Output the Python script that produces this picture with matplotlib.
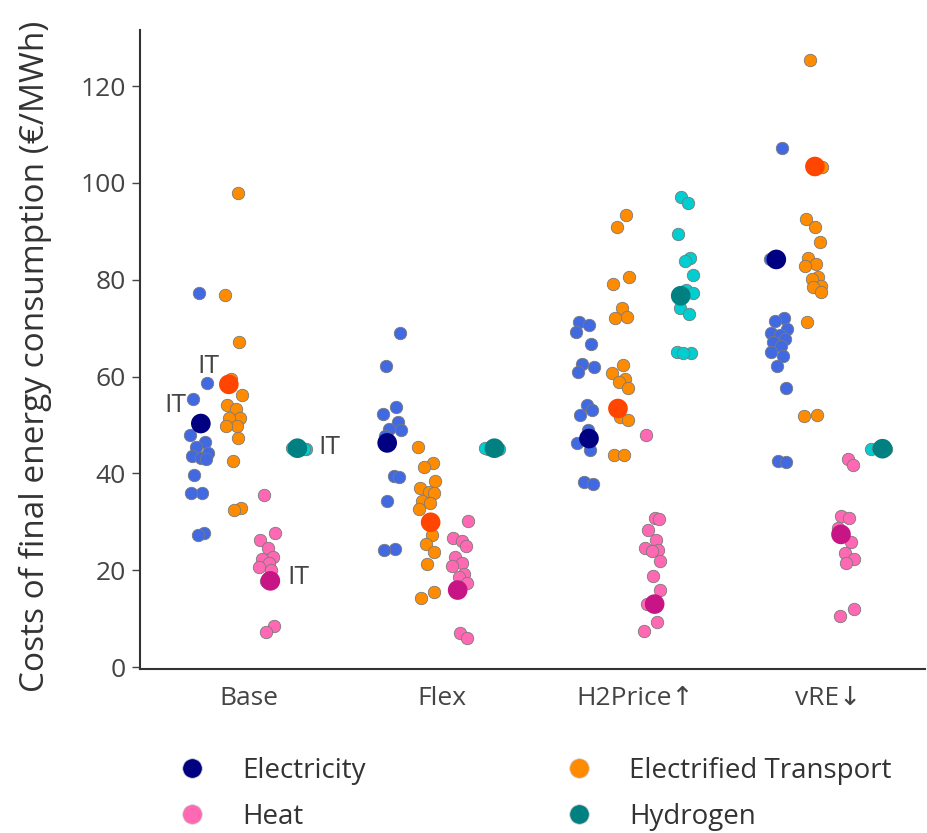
import matplotlib.pyplot as plt
from matplotlib.lines import Line2D

plt.rcParams['font.family'] = ['Open Sans', 'DejaVu Sans']

scenarios = ["Base", "Flex", "H2Price↑", "vRE↓"]
carriers = ["Electricity", "Electrified Transport", "Heat", "Hydrogen"]

# costs per country (€/MWh), one list per scenario
electricity = [
    [77.3, 58.7, 55.4, 50.3, 47.9, 46.5, 45.5, 44.3, 43.5, 43.1, 42.9, 39.7, 35.9, 35.9, 27.7, 27.3],
    [69.0, 62.2, 53.8, 52.3, 50.7, 49.1, 49.0, 47.7, 39.4, 39.2, 34.3, 24.4, 24.2],
    [71.3, 70.6, 69.2, 66.7, 62.6, 61.9, 61.0, 54.1, 53.1, 52.0, 48.9, 46.2, 44.8, 38.3, 37.9],
    [107.2, 84.2, 72.2, 71.4, 69.8, 69.0, 68.6, 67.7, 67.1, 66.4, 65.1, 64.3, 62.1, 57.7, 42.5, 42.4],
]
transport = [
    [98.0, 76.8, 67.2, 59.4, 56.2, 54.1, 53.2, 51.4, 51.4, 49.8, 49.8, 47.4, 42.6, 32.8, 32.4],
    [45.4, 42.1, 41.4, 38.5, 37.0, 36.2, 36.0, 34.3, 33.9, 32.6, 27.3, 25.5, 23.8, 21.3, 15.6, 14.2],
    [93.3, 90.9, 80.5, 79.1, 74.1, 72.4, 72.0, 62.4, 60.7, 59.4, 58.9, 57.6, 51.7, 51.0, 43.8, 43.8],
    [125.4, 103.4, 92.5, 90.8, 87.8, 84.4, 83.2, 82.9, 80.5, 80.1, 78.8, 78.5, 77.5, 71.3, 52.0, 51.9],
]
heat = [
    [35.5, 27.6, 26.2, 24.5, 22.8, 22.4, 21.4, 20.7, 20.1, 17.8, 8.5, 7.3],
    [30.2, 26.6, 26.1, 24.9, 22.8, 21.4, 20.9, 19.3, 18.6, 17.3, 7.1, 5.9],
    [47.9, 30.7, 30.5, 28.4, 26.2, 24.5, 24.2, 24.0, 22.0, 18.8, 16.0, 13.0, 9.2, 7.5],
    [42.9, 41.8, 31.3, 30.8, 28.7, 25.8, 23.6, 22.4, 21.4, 11.9, 10.5],
]
hydrogen = [
    [45.1, 45.1, 45.0, 45.1, 45.2, 45.1],
    [45.1, 45.0, 45.1, 45.2, 45.1, 45.1],
    [97.0, 95.8, 89.4, 84.6, 83.9, 81.0, 77.9, 77.2, 74.1, 72.9, 65.1, 64.9, 64.9],
    [45.1, 45.0, 45.1, 45.2, 45.1, 45.1],
]
# Italy (highlighted)
it_electricity = [50.3, 46.3, 47.2, 84.2]
it_transport = [58.4, 29.9, 53.4, 103.4]
it_heat = [17.8, 15.9, 13.0, 27.4]
it_hydrogen = [45.2, 45.2, 76.7, 45.1]

small_colors = ["#4169E1", "#FF8C00", "#FF69B4", "#00CED1"]
it_colors = ["#000080", "#FF4500", "#C71585", "#008080"]
legend_colors = ["#000080", "#FF8C00", "#FF69B4", "#008080"]
offsets = [-0.26, -0.08, 0.09, 0.26]
jitter = [0.0, 0.04, -0.03, 0.02, -0.045, 0.03, -0.015, 0.045, -0.035,
          0.01, 0.035, -0.025, 0.015, -0.04, 0.025, -0.005, 0.04]
it_jitter = [0.01, -0.025, 0.02, -0.01]

fig = plt.figure(figsize=(9.27, 8.33), dpi=100)
ax = fig.add_axes([140 / 927, 1 - 669 / 833, 785 / 927, 639 / 833])

groups = [electricity, transport, heat, hydrogen]
it_groups = [it_electricity, it_transport, it_heat, it_hydrogen]
for c, vals in enumerate(groups):
    for s, ys in enumerate(vals):
        xs = [s + offsets[c] + jitter[(i + 3 * c + s) % len(jitter)] for i in range(len(ys))]
        ax.scatter(xs, ys, s=80, color=small_colors[c], edgecolor="#7a7a7a",
                   linewidth=0.6, zorder=2)
for c, vals in enumerate(it_groups):
    xs = [s + offsets[c] + it_jitter[(s + c) % 4] for s in range(len(vals))]
    ax.scatter(xs, vals, s=200, color=it_colors[c], edgecolor="none", zorder=3)

# IT labels in Base
lbl = dict(fontsize=19, color="#444444", textcoords="offset pixels", va="center")
bx = [0 + offsets[c] + it_jitter[c % 4] for c in range(4)]
ax.annotate("IT", (bx[0], it_electricity[0]), xytext=(-25, 18), ha="center", **lbl)
ax.annotate("IT", (bx[1], it_transport[0]), xytext=(-20, 18), ha="center", **lbl)
ax.annotate("IT", (bx[2], it_heat[0]), xytext=(28, 3), ha="center", **lbl)
ax.annotate("IT", (bx[3], it_hydrogen[0]), xytext=(32, 1), ha="center", **lbl)

ax.set_xlim(-0.565, 3.5)
ax.set_ylim(-0.41, 131.6)
ax.set_xticks(range(len(scenarios)))
ax.set_xticklabels(scenarios)
ax.set_yticks([0, 20, 40, 60, 80, 100, 120])
ax.tick_params(axis="x", length=0, pad=12, labelsize=19, labelcolor="#444444")
ax.tick_params(axis="y", length=6, width=1, color="#444444", labelsize=19,
               labelcolor="#444444", pad=4)
for side in ["top", "right"]:
    ax.spines[side].set_visible(False)
for side in ["left", "bottom"]:
    ax.spines[side].set_color("#333333")
    ax.spines[side].set_linewidth(1.5)
ax.set_ylabel("Costs of final energy consumption (€/MWh)", fontsize=24, color="#333333")
ax.yaxis.set_label_coords(-0.112, 0.49)

order = [0, 2, 1, 3]
handles = [Line2D([], [], marker="o", linestyle="none", markersize=14,
                  markerfacecolor=legend_colors[i], markeredgecolor="#cccccc",
                  markeredgewidth=0.5, label=carriers[i]) for i in order]
fig.legend(handles=handles, loc="upper left", bbox_to_anchor=(178 / 927, 1 - 757 / 833),
           ncol=2, frameon=False, fontsize=20, handlelength=1.0, handletextpad=1.3,
           columnspacing=7.2, labelspacing=0.65, borderpad=0, borderaxespad=0,
           labelcolor="#333333")

fig.savefig("out.png", dpi=100)
